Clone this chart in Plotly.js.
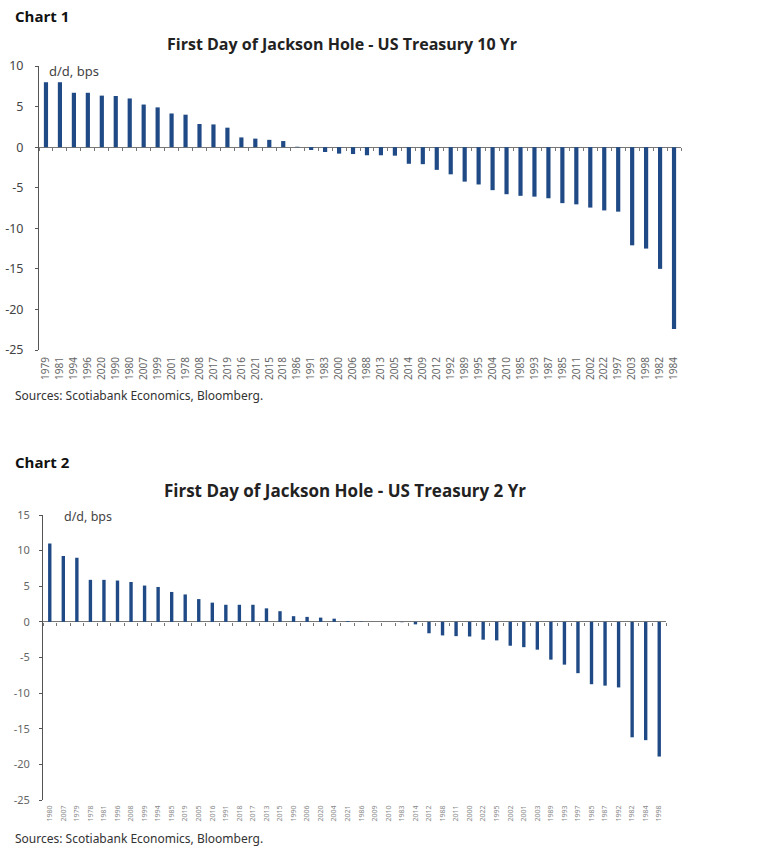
<!DOCTYPE html>
<html>
<head>
<meta charset="utf-8">
<script src="https://cdn.plot.ly/plotly-3.0.1.min.js"></script>
<style>
  html, body { margin:0; padding:0; background:#fff; }
  #chart10 { position:absolute; left:0; top:0; width:763px; height:425px; }
  #chart2y { position:absolute; left:0; top:425px; width:763px; height:426px; }
</style>
</head>
<body>
<div id="chart10"></div>
<div id="chart2y"></div>
<script>
// Chart 1 - 10 Yr, sorted by change on first day of Jackson Hole
const years10 = ["1979","1981","1994","1996","2020","1990","1980","2007","1999","2001","1978","2008",
  "2017","2019","2016","2021","2015","2018","1986","1991","1983","2000","2006","1988","2013","2005",
  "2014","2009","2012","1992","1989","1995","2004","2010","1985","1993","1987","1985","2011","2002",
  "2022","1997","2003","1998","1982","1984"];
const bps10 = [8.0, 8.0, 6.7, 6.7, 6.35, 6.3, 6.0, 5.25, 4.9, 4.15, 4.0, 2.85,
  2.8, 2.4, 1.2, 1.05, 0.9, 0.75, 0.05, -0.35, -0.6, -0.8, -0.85, -1.0, -1.0, -1.05,
  -2.05, -2.1, -2.8, -3.35, -4.25, -4.6, -5.3, -5.8, -6.0, -6.1, -6.3, -6.9, -7.05, -7.45,
  -7.8, -7.95, -12.1, -12.5, -15.0, -22.4];

// Chart 2 - 2 Yr
const years2 = ["1980","2007","1979","1978","1981","1996","2008","1999","1994","1985","2019","2005",
  "2016","1991","2018","2017","2013","2015","1990","2006","2020","2004","2021","1986","2009","2010",
  "1983","2014","2012","1988","2011","2000","2022","1995","2002","2001","2003","1989","1993","1997",
  "1985","1987","1992","1982","1984","1998"];
const bps2 = [11.0, 9.25, 9.0, 5.9, 5.9, 5.8, 5.6, 5.1, 4.9, 4.2, 3.85, 3.2,
  2.7, 2.4, 2.4, 2.4, 1.9, 1.5, 0.8, 0.7, 0.6, 0.45, 0.1, 0.05, 0, 0,
  -0.05, -0.35, -1.6, -1.9, -2.0, -2.05, -2.5, -2.6, -3.35, -3.55, -3.9, -5.3, -6.0, -7.2,
  -8.75, -8.95, -9.2, -16.2, -16.6, -18.9];

const yTicks10 = [10, 5, 0, -5, -10, -15, -20, -25];
const yTicks2 = [15, 10, 5, 0, -5, -10, -15, -20, -25];

const BAR = "#1f4a85";
const W = 763;

function drawChart(divId, o) {
  const pw = W - o.m.l - o.m.r, ph = o.H - o.m.t - o.m.b;
  const px = x => (x - o.m.l) / pw;          // page px -> paper
  const py = y => (o.H - o.m.b - y) / ph;
  const idx = o.years.map((_, i) => i);
  const halves = [-0.5].concat(idx.map(i => i + 0.5));
  const xr = [-0.5, o.years.length - 0.5];
  const zeroPos = (0 - o.yRange[0]) / (o.yRange[1] - o.yRange[0]);

  const bars = {
    type: "bar", x: idx, y: o.values, marker: {color: BAR},
    hovertext: o.years, hoverinfo: "text+y"
  };
  // invisible carrier so the zero-line tick axis gets drawn
  const carrier = { type: "scatter", x: idx, y: o.values, xaxis: "x2", mode: "none",
    hoverinfo: "skip", showlegend: false };

  const layout = {
    width: W, height: o.H,
    margin: o.m,
    paper_bgcolor: "#fff", plot_bgcolor: "#fff",
    showlegend: false,
    bargap: o.gap,
    font: {family: "Noto Sans, Open Sans, sans-serif", color: "#444"},
    title: {
      text: o.title, xref: "container", yref: "container",
      x: o.titleX / W, xanchor: "center", y: 1 - o.titleY / o.H, yanchor: "middle",
      font: {family: "Open Sans, sans-serif", size: o.titleSize, color: "#222", weight: 700}
    },
    xaxis: {
      range: xr, tickmode: "array", tickvals: idx, ticktext: o.years,
      tickangle: -90, tickfont: {size: o.xFont, color: o.xColor},
      showline: false, showgrid: false, zeroline: false, ticks: "",
      ticklabelstandoff: o.xStandoff
    },
    xaxis2: {
      overlaying: "x", anchor: "free", position: zeroPos, side: "bottom",
      range: xr, tickmode: "array", tickvals: halves, showticklabels: false,
      ticks: "outside", ticklen: 3, tickcolor: "#777", tickwidth: 1,
      showline: false, showgrid: false, zeroline: false
    },
    yaxis: {
      range: o.yRange, tickmode: "array", tickvals: o.yTicks,
      ticktext: o.yTicks.map(v => String(v)),
      tickfont: {size: o.yFont, color: o.yColor},
      showline: true, linecolor: "#555", linewidth: 1,
      ticks: "outside", ticklen: 3, tickcolor: "#555",
      showgrid: false, zeroline: true, zerolinecolor: "#777", zerolinewidth: 1,
      ticklabelstandoff: o.standoff
    },
    annotations: [
      {text: o.chartLabel, xref: "paper", yref: "paper", x: px(13), y: py(o.labelY),
        xanchor: "left", yanchor: "middle", showarrow: false,
        font: {family: "Open Sans, sans-serif", size: 15, color: "#111", weight: 700}},
      {text: "d/d, bps", xref: "paper", yref: "paper", x: px(o.unitX), y: py(o.unitY),
        xanchor: "left", yanchor: "middle", showarrow: false,
        font: {size: o.unitFont, color: "#444"}},
      {text: "Sources: Scotiabank Economics, Bloomberg.", xref: "paper", yref: "paper",
        x: px(13), y: py(o.srcY), xanchor: "left", yanchor: "middle", showarrow: false,
        font: {size: 12, color: "#333"}}
    ]
  };
  Plotly.newPlot(divId, [bars, carrier], layout, {displayModeBar: false, staticPlot: true});
}

drawChart("chart10", {
  years: years10, values: bps10, H: 425,
  m: {l: 39, r: 82, t: 66, b: 75, pad: 0},
  yRange: [-25, 10], yTicks: yTicks10, gap: 0.7,
  title: "First Day of Jackson Hole - US Treasury 10 Yr", titleX: 342, titleY: 44, titleSize: 16,
  chartLabel: "Chart 1", labelY: 16, srcY: 395, unitX: 47, unitY: 71, unitFont: 13,
  xFont: 10, xColor: "#666", xStandoff: 4, yFont: 12.5, yColor: "#444", standoff: 9
});

drawChart("chart2y", {
  years: years2, values: bps2, H: 426,
  m: {l: 43, r: 97, t: 90, b: 51, pad: 0},
  yRange: [-25, 15], yTicks: yTicks2, gap: 0.75,
  title: "First Day of Jackson Hole - US Treasury 2 Yr", titleX: 345, titleY: 66, titleSize: 17,
  chartLabel: "Chart 2", labelY: 37, srcY: 413, unitX: 62, unitY: 91, unitFont: 12.5,
  xFont: 7, xColor: "#888", xStandoff: 3, yFont: 11, yColor: "#666", standoff: 7
});
</script>
</body>
</html>
